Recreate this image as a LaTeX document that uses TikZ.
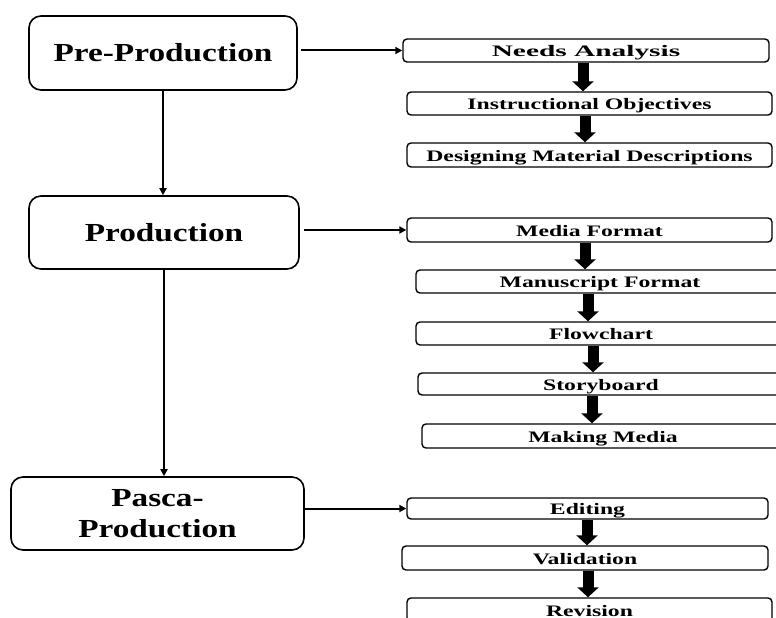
\documentclass[tikz,border=0pt]{standalone}
\usepackage{fontspec}
\usepackage{graphicx}
\setmainfont{Liberation Serif}
\newfontfamily\bigfont[FakeStretch=1.28]{Liberation Serif}
\newfontfamily\smallfont[FakeStretch=1.48]{Liberation Serif}
\usetikzlibrary{arrows.meta}
\tikzset{
  mainbox/.style={draw, line width=1.6pt, rounded corners=12pt, inner sep=0pt,
    font=\bigfont\bfseries\fontsize{26}{31}\selectfont, align=center},
  subbox/.style={draw, line width=1.4pt, rounded corners=4pt, inner sep=0pt,
    font=\smallfont\bfseries\fontsize{16}{18}\selectfont, text height=12pt, text depth=0pt},
  thinarrow/.style={line width=2pt, -{Triangle[length=7pt,width=7pt]}},
  thickarrow/.style={line width=11pt, -{Triangle[length=10pt,width=21pt]}}
}
\begin{document}
\begin{tikzpicture}[x=1pt,y=-1pt]
\useasboundingbox (0,0) rectangle (776,618);
\clip (0,0) rectangle (776,618);
% main stages
\node[mainbox, minimum width=268, minimum height=74, text height=18pt, text depth=0pt] (pre) at (163,53) {Pre-Production};
\node[mainbox, minimum width=270, minimum height=73, text height=18pt, text depth=0pt] (prod) at (164,232.5) {Production};
\node[mainbox, minimum width=293, minimum height=73] (pasca) at (157.5,513.5) {Pasca-\\Production};
% pre-production steps
\node[subbox, minimum width=366, minimum height=23] (needs) at (586,50.5) {\scalebox{1.24}[1]{Needs Analysis}};
\node[subbox, minimum width=365, minimum height=23] (instr) at (589.5,103.5) {Instructional Objectives};
\node[subbox, minimum width=365, minimum height=24] (design) at (589.5,155) {Designing Material Descriptions};
% production steps
\node[subbox, minimum width=365, minimum height=24] (media) at (589.5,230) {Media Format};
\node[subbox, minimum width=368, minimum height=23] (manu) at (600,281.5) {Manuscript Format};
\node[subbox, minimum width=370, minimum height=23] (flow) at (601,333.5) {Flowchart};
\node[subbox, minimum width=366, minimum height=22] (story) at (601,384) {Storyboard};
\node[subbox, minimum width=362, minimum height=24] (making) at (603,436) {Making Media};
% pasca-production steps
\node[subbox, minimum width=361, minimum height=21] (edit) at (587.5,508.5) {Editing};
\node[subbox, minimum width=366, minimum height=24] (valid) at (585,558) {Validation};
\node[subbox, minimum width=365, minimum height=24] (rev) at (589.5,610) {Revision};
% thin connectors
\draw[thinarrow, shorten <=3pt] (pre.east |- needs.west) -- (needs.west);
\draw[thinarrow, shorten <=4pt] (prod.east |- media.west) -- (media.west);
\draw[thinarrow] (pasca.east |- edit.west) -- (edit.west);
\draw[thinarrow] (pre.south) -- (prod.north -| pre.south);
\draw[thinarrow] (prod.south) -- (pasca.north -| prod.south);
% thick connectors
\draw[thickarrow] (needs.south -| 583,0) -- (instr.north -| 583,0);
\draw[thickarrow] (instr.south -| 585,0) -- (design.north -| 585,0);
\draw[thickarrow] (media.south -| 585,0) -- (manu.north -| 585,0);
\draw[thickarrow] (manu.south -| 588,0) -- (flow.north -| 588,0);
\draw[thickarrow] (flow.south -| 593,0) -- (story.north -| 593,0);
\draw[thickarrow] (story.south -| 592,0) -- (making.north -| 592,0);
\draw[thickarrow] (edit.south -| 587,0) -- (valid.north -| 587,0);
\draw[thickarrow] (valid.south -| 588,0) -- (rev.north -| 588,0);
\end{tikzpicture}
\end{document}
